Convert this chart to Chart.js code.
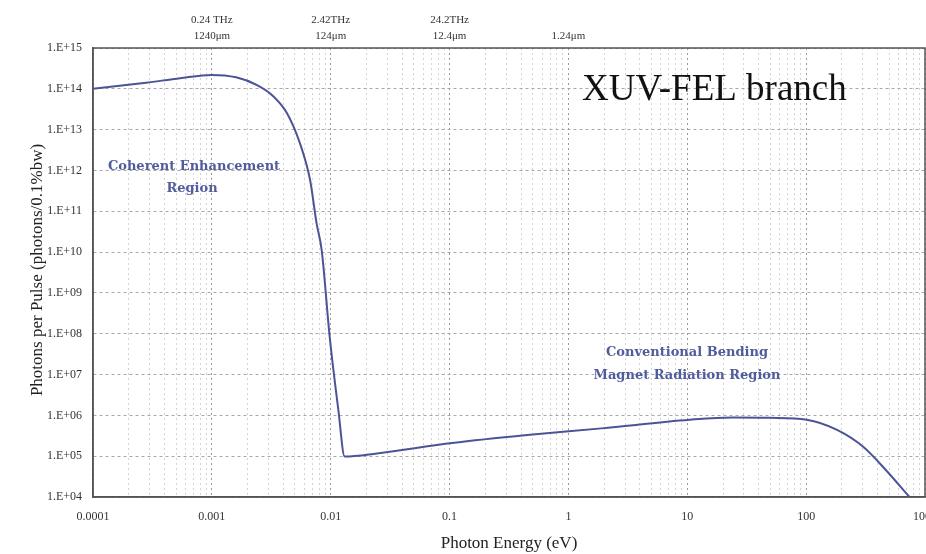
<!DOCTYPE html>
<html>
<head>
<meta charset="utf-8">
<script src="https://cdn.jsdelivr.net/npm/chart.js@4"></script>
<style>
  body { margin: 0; background: #fff; }
  canvas { display: block; }
</style>
</head>
<body>
<canvas id="fluxChart" width="926" height="554"></canvas>
<script>
// photon energy (eV) and photons per pulse
const energy = [1e-4, 2.8e-4, 5.4e-4, 1.0e-3, 1.6e-3, 2.4e-3, 3.3e-3, 4.3e-3, 5.5e-3, 6.7e-3, 7.6e-3, 8.4e-3,
  9.8e-3, 1.16e-2, 1.31e-2, 2.45e-2, 0.105, 0.45, 1.9, 10.5, 24, 49, 101, 182, 302, 468, 740];
const flux = [1.0e14, 1.41e14, 1.82e14, 2.19e14, 1.91e14, 1.23e14, 6.5e13, 2.5e13, 4.7e12, 5.9e11, 5.1e10, 1.1e10,
  8.5e7, 1.35e6, 9.8e4, 1.17e5, 2.1e5, 3.3e5, 4.8e5, 7.8e5, 8.9e5, 8.7e5, 7.8e5, 4.4e5, 1.7e5, 4.6e4, 1.0e4];

// axis ticks
const xDecades = [1e-4, 1e-3, 1e-2, 1e-1, 1, 10, 100, 1000];
const xTickLabels = ["0.0001", "0.001", "0.01", "0.1", "1", "10", "100", "1000"];
const yDecades = [1e4, 1e5, 1e6, 1e7, 1e8, 1e9, 1e10, 1e11, 1e12, 1e13, 1e14, 1e15];
const yTickLabels = ["1.E+04", "1.E+05", "1.E+06", "1.E+07", "1.E+08", "1.E+09", "1.E+10", "1.E+11", "1.E+12", "1.E+13", "1.E+14", "1.E+15"];
const topTicks = [1e-3, 1e-2, 1e-1, 1];
const topFreq = ["0.24 THz", "2.42THz", "24.2THz", ""];
const topWave = ["1240\u03bcm", "124\u03bcm", "12.4\u03bcm", "1.24\u03bcm"];

const lineColor = "#4b5596";
const noteColor = "#505c9c";

function idxOf(list, v) {
  return list.findIndex(d => Math.abs(Math.log10(d) - Math.log10(v)) < 1e-6);
}

// box round the plot, y title, notes and title text
const decorations = {
  id: "decorations",
  afterDraw(chart) {
    const { ctx, chartArea: a } = chart;
    ctx.save();
    ctx.strokeStyle = "#555";
    ctx.lineWidth = 1.5;
    ctx.strokeRect(a.left, a.top, a.right - a.left, a.bottom - a.top);

    ctx.save();
    ctx.translate(38, 270);
    ctx.rotate(-Math.PI / 2);
    ctx.fillStyle = "#222";
    ctx.font = "17px 'Liberation Serif'";
    ctx.textAlign = "center";
    ctx.textBaseline = "middle";
    ctx.fillText("Photons per Pulse (photons/0.1%bw)", 0, 0);
    ctx.restore();

    ctx.fillStyle = "#111";
    ctx.font = "37px 'Liberation Serif'";
    ctx.textAlign = "left";
    ctx.textBaseline = "alphabetic";
    ctx.fillText("XUV-FEL branch", 582, 100);

    ctx.fillStyle = noteColor;
    ctx.font = "bold 13px 'DejaVu Serif'";
    ctx.textAlign = "center";
    ctx.textBaseline = "middle";
    ctx.fillText("Coherent Enhancement", 194, 167);
    ctx.fillText("Region", 192, 189);
    ctx.fillText("Conventional Bending", 687, 353);
    ctx.fillText("Magnet Radiation Region", 687, 376);
    ctx.restore();
  }
};

new Chart(document.getElementById("fluxChart").getContext("2d"), {
  type: "line",
  data: {
    datasets: [{
      data: energy.map((e, i) => ({ x: e, y: flux[i] })),
      borderColor: lineColor,
      borderWidth: 2,
      pointRadius: 0,
      cubicInterpolationMode: "monotone",
      fill: false
    }]
  },
  options: {
    responsive: false,
    animation: false,
    devicePixelRatio: 1,
    layout: { padding: { left: 0, right: 1, top: 0, bottom: 0 } },
    plugins: { legend: { display: false }, tooltip: { enabled: false } },
    scales: {
      x: {
        type: "logarithmic",
        position: "bottom",
        min: 1e-4,
        max: 1000,
        afterBuildTicks(scale) {
          const t = [];
          xDecades.forEach((d, i) => {
            if (i === xDecades.length - 1) { t.push({ value: d, major: true }); return; }
            for (let m = 1; m <= 9; m++) t.push({ value: m * d, major: m === 1 });
          });
          scale.ticks = t;
        },
        afterFit(scale) {
          scale.height = 57;
          scale.paddingLeft = 0;
          scale.paddingRight = 0;
        },
        grid: {
          drawTicks: false,
          color: c => (c.tick && c.tick.major ? "#9a9a9a" : "#d2d2d2"),
          lineWidth: 1
        },
        border: { color: "#555", width: 1.5, dash: [2, 3] },
        ticks: {
          autoSkip: false,
          maxRotation: 0,
          padding: 13,
          color: "#333",
          font: { family: "'Liberation Serif'", size: 12 },
          callback(value) {
            const i = idxOf(xDecades, value);
            return i >= 0 ? xTickLabels[i] : "";
          }
        },
        title: {
          display: true,
          text: "Photon Energy (eV)",
          color: "#222",
          font: { family: "'Liberation Serif'", size: 17 },
          padding: { top: 0, bottom: 0 }
        }
      },
      x2: {
        type: "logarithmic",
        position: "top",
        min: 1e-4,
        max: 1000,
        afterBuildTicks(scale) {
          scale.ticks = topTicks.map(v => ({ value: v }));
        },
        afterFit(scale) {
          scale.height = 48;
          scale.paddingLeft = 0;
          scale.paddingRight = 0;
        },
        grid: { display: false, drawTicks: false },
        border: { display: false },
        ticks: {
          autoSkip: false,
          maxRotation: 0,
          padding: 4,
          color: "#333",
          font: { family: "'Liberation Serif'", size: 11, lineHeight: 1.45 },
          callback(value) {
            const i = idxOf(topTicks, value);
            return i >= 0 ? [topFreq[i], topWave[i]] : "";
          }
        }
      },
      y: {
        type: "logarithmic",
        min: 1e4,
        max: 1e15,
        afterBuildTicks(scale) {
          scale.ticks = yDecades.map(v => ({ value: v, major: true }));
        },
        afterFit(scale) {
          scale.width = 93;
          scale.paddingTop = 0;
          scale.paddingBottom = 0;
        },
        grid: { drawTicks: false, color: "#a8a8a8", lineWidth: 1 },
        border: { color: "#555", width: 1.5, dash: [3, 3] },
        ticks: {
          autoSkip: false,
          padding: 11,
          color: "#333",
          font: { family: "'Liberation Serif'", size: 12 },
          callback(value) {
            const i = idxOf(yDecades, value);
            return i >= 0 ? yTickLabels[i] : "";
          }
        }
      }
    }
  },
  plugins: [decorations]
});
</script>
</body>
</html>
